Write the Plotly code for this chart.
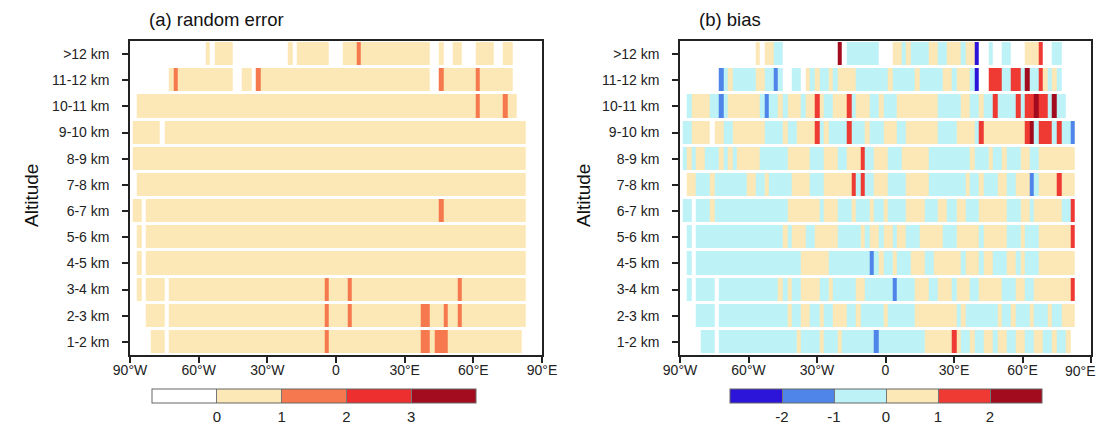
import plotly.graph_objects as go

# ---------------------------------------------------------------- labels
ALT_LABELS = ["1-2 km", "2-3 km", "3-4 km", "4-5 km", "5-6 km", "6-7 km",
              "7-8 km", "8-9 km", "9-10 km", "10-11 km", "11-12 km", ">12 km"]
LON_TICKS = [-90, -60, -30, 0, 30, 60, 90]
LON_TEXT = ["90°W", "60°W", "30°W", "0", "30°E", "60°E", "90°E"]

# ---------------------------------------------------------------- (a) random error
# each segment: (west edge, east edge, value); gaps are missing data
err_1_2 = [(-81, -75, 0.5), (-73, -5, 0.5), (-5, -3, 1.5), (-3, 37, 0.5), (37, 41, 1.5),
           (41, 43, 0.5), (43, 49, 1.5), (49, 81, 0.5)]
err_2_3 = [(-83, -75, 0.5), (-73, -5, 0.5), (-5, -3, 1.5), (-3, 5, 0.5), (5, 7, 1.5),
           (7, 37, 0.5), (37, 41, 1.5), (41, 47, 0.5), (47, 49, 1.5), (49, 53, 0.5),
           (53, 55, 1.5), (55, 83, 0.5)]
err_3_4 = [(-87, -85, 0.5), (-83, -75, 0.5), (-73, -5, 0.5), (-5, -3, 1.5), (-3, 5, 0.5),
           (5, 7, 1.5), (7, 53, 0.5), (53, 55, 1.5), (55, 83, 0.5)]
err_4_5 = [(-87, -85, 0.5), (-83, 83, 0.5)]
err_5_6 = [(-87, -85, 0.5), (-83, 83, 0.5)]
err_6_7 = [(-89, -85, 0.5), (-83, 45, 0.5), (45, 47, 1.5), (47, 83, 0.5)]
err_7_8 = [(-87, 83, 0.5)]
err_8_9 = [(-89, 83, 0.5)]
err_9_10 = [(-89, -77, 0.5), (-75, 83, 0.5)]
err_10_11 = [(-87, 61, 0.5), (61, 63, 1.5), (63, 73, 0.5), (73, 75, 1.5), (75, 79, 0.5)]
err_11_12 = [(-73, -71, 0.5), (-71, -69, 1.5), (-69, -45, 0.5), (-41, -37, 0.5),
             (-35, -33, 1.5), (-33, 41, 0.5), (45, 47, 1.5), (47, 61, 0.5), (61, 63, 1.5),
             (63, 77, 0.5)]
err_12 = [(-57, -55, 0.5), (-53, -45, 0.5), (-21, -19, 0.5), (-17, -3, 0.5), (3, 9, 0.5),
          (9, 11, 1.5), (11, 41, 0.5), (45, 47, 0.5), (51, 55, 0.5), (61, 69, 0.5),
          (73, 77, 0.5)]

# ---------------------------------------------------------------- (b) bias
bias_1_2 = [(-81, -75, -.5), (-73, -39, -.5), (-39, -37, .5), (-37, -29, -.5), (-29, -27, .5),
            (-27, -21, -.5), (-21, -19, .5), (-19, -5, -.5), (-5, -3, -1.5), (-3, 17, -.5),
            (17, 29, .5), (29, 31, 1.5), (31, 33, .5), (33, 37, -.5), (37, 39, .5),
            (39, 43, -.5), (43, 47, .5), (47, 49, -.5), (49, 53, .5), (53, 57, -.5),
            (57, 61, .5), (61, 65, -.5), (65, 69, .5), (69, 73, -.5), (73, 75, .5),
            (75, 79, -.5), (79, 81, .5)]
bias_2_3 = [(-83, -75, -.5), (-73, -43, -.5), (-43, -41, .5), (-41, -37, -.5), (-37, -33, .5),
            (-33, -29, -.5), (-29, -27, .5), (-27, -23, -.5), (-23, -17, .5), (-17, -13, -.5),
            (-13, -11, .5), (-11, -1, -.5), (-1, 1, .5), (1, 13, -.5), (13, 31, .5),
            (31, 33, -.5), (33, 35, .5), (35, 49, -.5), (49, 51, .5), (51, 55, -.5),
            (55, 57, .5), (57, 63, -.5), (63, 65, .5), (65, 71, -.5), (71, 73, .5),
            (73, 77, -.5), (77, 83, .5)]
bias_3_4 = [(-87, -85, -.5), (-83, -75, -.5), (-73, -47, -.5), (-47, -45, .5), (-45, -43, -.5),
            (-43, -41, .5), (-41, -37, -.5), (-37, -29, .5), (-29, -25, -.5), (-25, -23, .5),
            (-23, -13, -.5), (-13, -9, .5), (-9, 3, -.5), (3, 5, -1.5), (5, 13, -.5),
            (13, 19, .5), (19, 23, -.5), (23, 29, .5), (29, 31, -.5), (31, 37, .5),
            (37, 41, -.5), (41, 51, .5), (51, 57, -.5), (57, 61, .5), (61, 65, -.5),
            (65, 81, .5), (81, 83, 1.5)]
bias_4_5 = [(-87, -85, -.5), (-83, -37, -.5), (-37, -25, .5), (-25, -7, -.5), (-7, -5, -1.5),
            (-5, -3, -.5), (-3, -1, .5), (-1, 3, -.5), (3, 5, .5), (5, 11, -.5), (11, 17, .5),
            (17, 21, -.5), (21, 33, .5), (33, 35, -.5), (35, 41, .5), (41, 43, -.5),
            (43, 47, .5), (47, 53, -.5), (53, 57, .5), (57, 59, -.5), (59, 61, .5),
            (61, 67, -.5), (67, 83, .5)]
bias_5_6 = [(-87, -85, -.5), (-83, -45, -.5), (-45, -43, .5), (-43, -41, -.5), (-41, -35, .5),
            (-35, -31, -.5), (-31, -21, .5), (-21, -11, -.5), (-11, -9, .5), (-9, -7, -.5),
            (-7, -3, .5), (-3, -1, -.5), (-1, 3, .5), (3, 5, -.5), (5, 9, .5), (9, 15, -.5),
            (15, 25, .5), (25, 31, -.5), (31, 41, .5), (41, 43, -.5), (43, 53, .5),
            (53, 59, -.5), (59, 61, .5), (61, 67, -.5), (67, 81, .5), (81, 83, 1.5)]
bias_6_7 = [(-89, -85, -.5), (-83, -77, -.5), (-77, -75, .5), (-75, -43, -.5), (-43, -29, .5),
            (-29, -27, -.5), (-27, -21, .5), (-21, -15, -.5), (-15, -13, .5), (-13, -7, -.5),
            (-7, -5, .5), (-5, -1, -.5), (-1, 1, .5), (1, 9, -.5), (9, 17, .5), (17, 23, -.5),
            (23, 27, .5), (27, 31, -.5), (31, 35, .5), (35, 41, -.5), (41, 53, .5),
            (53, 59, -.5), (59, 63, .5), (63, 65, -.5), (65, 77, .5), (77, 81, -.5),
            (81, 83, 1.5)]
bias_7_8 = [(-87, -83, .5), (-83, -77, -.5), (-77, -75, .5), (-75, -61, -.5), (-61, -57, .5),
            (-57, -53, -.5), (-53, -51, .5), (-51, -41, -.5), (-41, -33, .5), (-33, -27, -.5),
            (-27, -15, .5), (-15, -13, 1.5), (-13, -11, -.5), (-11, -9, 1.5), (-9, -5, -.5),
            (-5, 1, .5), (1, 9, -.5), (9, 19, .5), (19, 35, -.5), (35, 37, .5), (37, 41, -.5),
            (41, 43, .5), (43, 49, -.5), (49, 53, .5), (53, 57, -.5), (57, 63, .5),
            (63, 65, -1.5), (65, 67, -.5), (67, 75, .5), (75, 77, 1.5), (77, 83, .5)]
bias_8_9 = [(-89, -87, -.5), (-87, -85, .5), (-85, -83, -.5), (-83, -79, .5), (-79, -73, -.5),
            (-73, -71, .5), (-71, -69, -.5), (-69, -67, .5), (-67, -65, -.5), (-65, -55, .5),
            (-55, -43, -.5), (-43, -33, .5), (-33, -27, -.5), (-27, -21, .5), (-21, -17, -.5),
            (-17, -11, .5), (-11, -9, 1.5), (-9, -5, -.5), (-5, 1, .5), (1, 7, -.5),
            (7, 19, .5), (19, 37, -.5), (37, 39, .5), (39, 45, -.5), (45, 47, .5),
            (47, 51, -.5), (51, 53, .5), (53, 59, -.5), (59, 63, .5), (63, 67, -.5),
            (67, 83, .5)]
bias_9_10 = [(-89, -85, -.5), (-85, -77, .5), (-75, -71, .5), (-71, -67, -.5), (-67, -53, .5),
             (-53, -45, -.5), (-45, -43, .5), (-43, -39, -.5), (-39, -31, .5), (-31, -29, 1.5),
             (-29, -27, -.5), (-27, -25, .5), (-25, -17, -.5), (-17, -15, 1.5), (-15, -9, -.5),
             (-9, -7, .5), (-7, -1, -.5), (-1, 5, .5), (5, 9, -.5), (9, 23, .5), (23, 31, -.5),
             (31, 39, .5), (39, 41, -.5), (41, 43, 1.5), (43, 61, .5), (61, 63, 1.5),
             (63, 65, 2.5), (65, 67, -.5), (67, 73, 1.5), (73, 75, -.5), (75, 77, 1.5),
             (77, 81, -.5), (81, 83, -1.5)]
bias_10_11 = [(-87, -85, -.5), (-85, -77, .5), (-77, -73, -.5), (-73, -71, -1.5),
              (-71, -69, -.5), (-69, -55, .5), (-55, -53, -.5), (-53, -51, -1.5),
              (-51, -47, -.5), (-47, -45, .5), (-45, -43, -.5), (-43, -37, .5), (-37, -35, -.5),
              (-35, -31, .5), (-31, -29, 1.5), (-29, -27, .5), (-27, -23, -.5), (-23, -17, .5),
              (-17, -15, 1.5), (-15, -13, -.5), (-13, -7, .5), (-7, -3, -.5), (-3, -1, .5),
              (-1, 5, -.5), (5, 23, .5), (23, 33, -.5), (33, 37, .5), (37, 41, -.5),
              (41, 43, .5), (43, 47, -.5), (47, 49, 1.5), (49, 57, -.5), (57, 59, 1.5),
              (59, 61, -.5), (61, 65, 1.5), (65, 67, 2.5), (67, 71, 1.5), (71, 73, -.5),
              (73, 75, 2.5), (75, 79, -.5)]
bias_11_12 = [(-73, -71, -1.5), (-71, -69, -.5), (-69, -67, .5), (-67, -57, -.5),
              (-57, -53, .5), (-53, -49, -.5), (-49, -47, -1.5), (-47, -45, -.5),
              (-41, -37, -.5), (-35, -33, .5), (-33, -31, -.5), (-31, -29, .5), (-29, -25, -.5),
              (-25, -23, .5), (-23, -21, -.5), (-21, -13, .5), (-13, 1, -.5), (1, 3, .5),
              (3, 13, -.5), (13, 15, .5), (15, 25, -.5), (25, 29, .5), (29, 31, -.5),
              (31, 37, .5), (37, 39, -.5), (39, 41, -2.5), (45, 51, 1.5), (51, 55, -.5),
              (55, 59, 1.5), (59, 61, -.5), (61, 63, 2.5), (63, 67, -.5), (67, 69, 1.5),
              (69, 71, .5), (71, 73, -.5), (73, 75, .5), (75, 77, -.5)]
bias_12 = [(-57, -55, .5), (-53, -49, .5), (-49, -45, -.5), (-21, -19, 2.5), (-17, -3, -.5),
           (3, 7, .5), (7, 9, -.5), (9, 11, .5), (11, 19, -.5), (19, 23, .5), (23, 27, -.5),
           (27, 33, .5), (33, 35, -.5), (35, 39, .5), (39, 41, -2.5), (45, 47, -.5),
           (51, 55, -.5), (61, 67, .5), (67, 69, 1.5), (73, 77, -.5)]

ERR_ROWS = [err_1_2, err_2_3, err_3_4, err_4_5, err_5_6, err_6_7,
            err_7_8, err_8_9, err_9_10, err_10_11, err_11_12, err_12]
BIAS_ROWS = [bias_1_2, bias_2_3, bias_3_4, bias_4_5, bias_5_6, bias_6_7,
             bias_7_8, bias_8_9, bias_9_10, bias_10_11, bias_11_12, bias_12]

# ---------------------------------------------------------------- colours
ERR_COLORS = ["#ffffff", "#fce8b6", "#f5784f", "#ee2f2f", "#a30b1f"]
BIAS_COLORS = ["#2c14d8", "#4f85e8", "#bdf2f7", "#fce8b6", "#ef3a33", "#a20a1d"]

# 1-degree grid of cell centres
LON_CENTERS = [k + 0.5 for k in range(-91, 91)]


def rows_to_grid(rows):
    grid = []
    for segs in rows:
        line = [None] * len(LON_CENTERS)
        for west, east, val in segs:
            for i, c in enumerate(LON_CENTERS):
                if west <= c < east:
                    line[i] = val
        grid.append(line)
    return grid


def stepped(colors):
    n = len(colors)
    scale = []
    for i, c in enumerate(colors):
        scale.append([i / n, c])
        scale.append([(i + 1) / n, c])
    return scale


W, H = 1100, 426
ML, MR, MT, MB = 130, 9, 41, 71
PW, PH = W - ML - MR, H - MT - MB


def px_x(x):
    return (x - ML) / PW


def px_y(y):
    return (H - MB - y) / PH


FONT = "Arial, Liberation Sans, sans-serif"

fig = go.Figure()

fig.add_trace(go.Heatmap(
    x=LON_CENTERS, y=list(range(12)), z=rows_to_grid(ERR_ROWS),
    zmin=-1, zmax=4, colorscale=stepped(ERR_COLORS), ygap=3, zsmooth=False,
    hoverongaps=False, xaxis="x", yaxis="y",
    colorbar=dict(
        orientation="h", x=px_x(314), xanchor="center", y=px_y(389), yanchor="top",
        lenmode="pixels", len=324, thickness=14, xpad=0, ypad=0,
        outlinewidth=1, outlinecolor="#666",
        tickmode="array", tickvals=[0, 1, 2, 3], ticktext=["0", "1", "2", "3"],
        ticks="inside", ticklen=14, tickwidth=1, tickcolor="#777",
        tickfont=dict(family=FONT, size=15, color="#222"),
    ),
))

fig.add_trace(go.Heatmap(
    x=LON_CENTERS, y=list(range(12)), z=rows_to_grid(BIAS_ROWS),
    zmin=-3, zmax=3, colorscale=stepped(BIAS_COLORS), ygap=3, zsmooth=False,
    hoverongaps=False, xaxis="x2", yaxis="y2",
    colorbar=dict(
        orientation="h", x=px_x(886), xanchor="center", y=px_y(389), yanchor="top",
        lenmode="pixels", len=312, thickness=14, xpad=0, ypad=0,
        outlinewidth=1, outlinecolor="#666",
        tickmode="array", tickvals=[-2, -1, 0, 1, 2], ticktext=["-2", "-1", "0", "1", "2"],
        ticks="inside", ticklen=14, tickwidth=1, tickcolor="#777",
        tickfont=dict(family=FONT, size=15, color="#222"),
    ),
))

AXIS_FONT = dict(family=FONT, size=14, color="#222")

xaxis_style = dict(
    range=[-90, 90], tickmode="array", tickvals=LON_TICKS,
    showline=True, linecolor="#222", linewidth=1.5, mirror=True,
    ticks="outside", ticklen=6, tickwidth=1.5, tickcolor="#222",
    showgrid=False, zeroline=False, tickfont=AXIS_FONT, ticklabelstandoff=-5,
)
yaxis_style = dict(
    range=[-0.5, 11.5], tickmode="array", tickvals=list(range(12)), ticktext=ALT_LABELS,
    showline=True, linecolor="#222", linewidth=1.5, mirror=True,
    ticks="outside", ticklen=6, tickwidth=1.5, tickcolor="#222",
    showgrid=False, zeroline=False, ticklabelstandoff=10, tickfont=AXIS_FONT,
)

# the right panel's last longitude label sits at the figure edge; it is
# written as an annotation pulled slightly inward so it stays visible
right_text = LON_TEXT[:-1] + [""]

fig.update_layout(
    width=W, height=H,
    margin=dict(l=ML, r=MR, t=MT, b=MB, autoexpand=False),
    paper_bgcolor="white", plot_bgcolor="white",
    showlegend=False,
    xaxis=dict(domain=[0, px_x(542)], anchor="y", ticktext=LON_TEXT, **xaxis_style),
    yaxis=dict(domain=[0, 1], anchor="x", **yaxis_style),
    xaxis2=dict(domain=[px_x(680), 1], anchor="y2", ticktext=right_text, **xaxis_style),
    yaxis2=dict(domain=[0, 1], anchor="x2", **yaxis_style),
    annotations=[
        dict(text="(a) random error", xref="paper", yref="paper", x=px_x(147), y=px_y(20),
             xanchor="left", yanchor="middle", showarrow=False,
             font=dict(family=FONT, size=18.5, color="#111")),
        dict(text="(b) bias", xref="paper", yref="paper", x=px_x(697), y=px_y(20),
             xanchor="left", yanchor="middle", showarrow=False,
             font=dict(family=FONT, size=18.5, color="#111")),
        dict(text="Altitude", xref="paper", yref="paper", x=px_x(31), y=px_y(196),
             xanchor="center", yanchor="middle", textangle=-90, showarrow=False,
             font=dict(family=FONT, size=19, color="#111")),
        dict(text="Altitude", xref="paper", yref="paper", x=px_x(583), y=px_y(196),
             xanchor="center", yanchor="middle", textangle=-90, showarrow=False,
             font=dict(family=FONT, size=19, color="#111")),
        dict(text=LON_TEXT[-1], xref="paper", yref="paper", x=px_x(1098), y=px_y(371),
             xanchor="right", yanchor="middle", showarrow=False, font=AXIS_FONT),
    ],
)

fig.write_html("out.html")
